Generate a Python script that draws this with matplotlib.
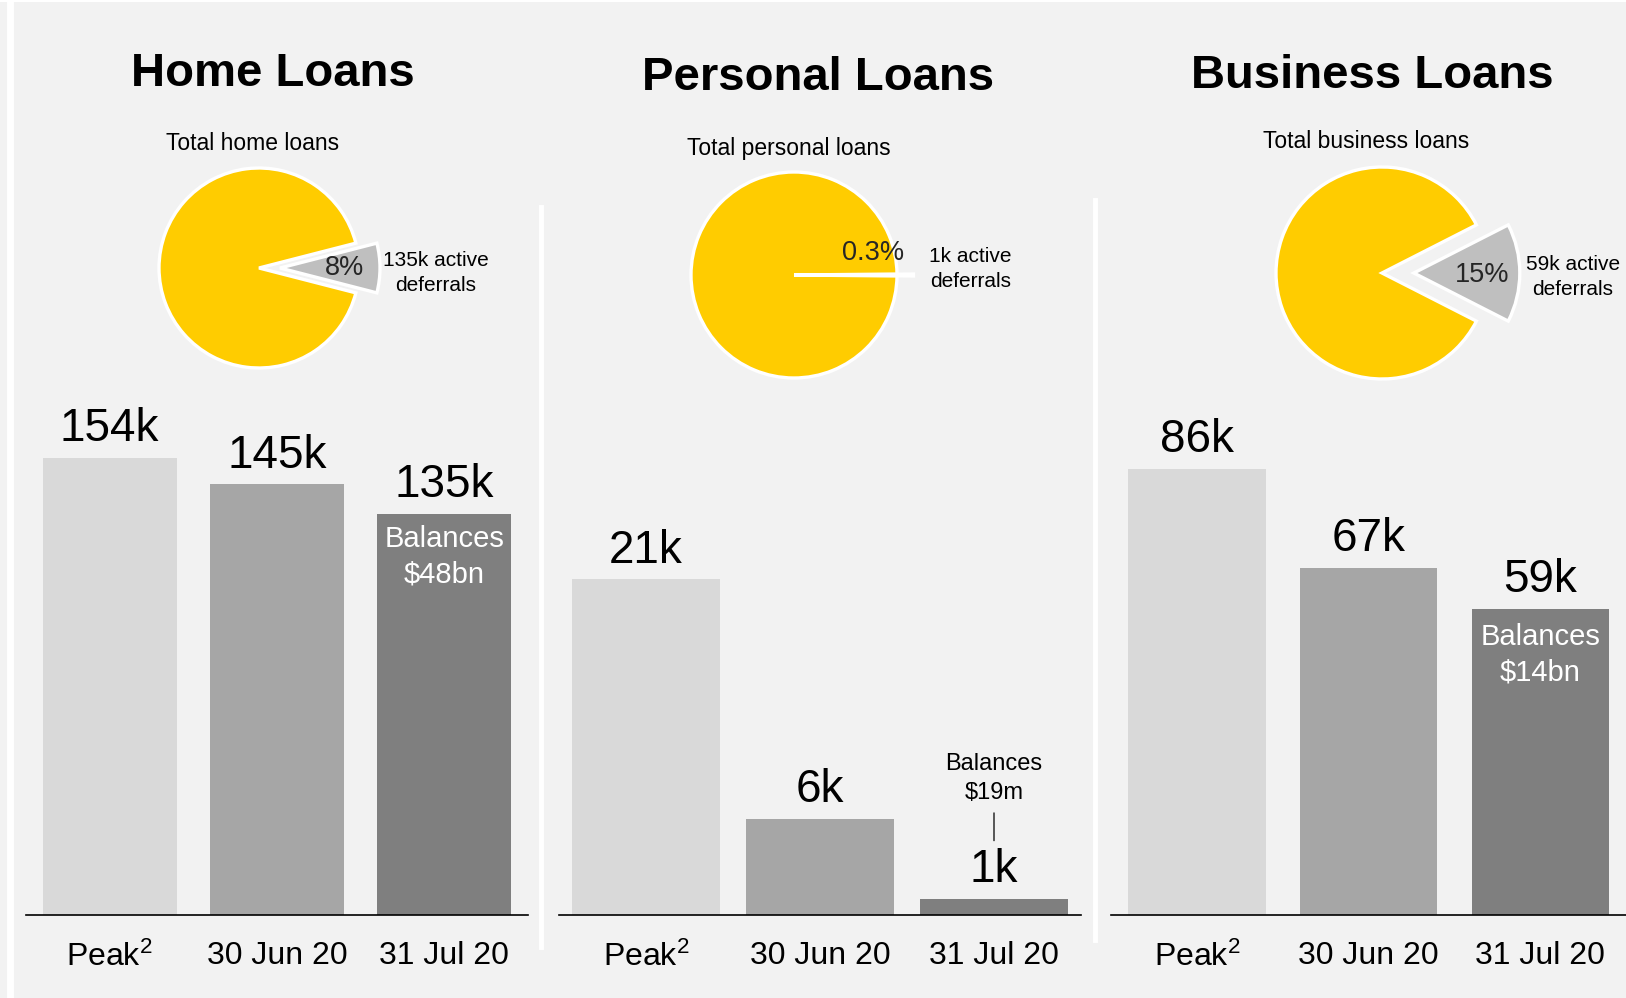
import matplotlib
matplotlib.use("Agg")
import matplotlib.pyplot as plt
import matplotlib.transforms as mtransforms
from matplotlib.lines import Line2D

plt.rcParams['font.family'] = ['Liberation Sans', 'DejaVu Sans']
plt.rcParams['mathtext.fontset'] = 'custom'
plt.rcParams['mathtext.rm'] = 'Liberation Sans'
plt.rcParams['mathtext.it'] = 'Liberation Sans:italic'
plt.rcParams['mathtext.bf'] = 'Liberation Sans:bold'

# data
titles = ["Home Loans", "Personal Loans", "Business Loans"]
pie_titles = ["Total home loans", "Total personal loans", "Total business loans"]
dates = ["Peak$^{2}$", "30 Jun 20", "31 Jul 20"]
home_counts = [154, 145, 135]
personal_counts = [21, 6, 1]
business_counts = [86, 67, 59]
deferral_pct = [8, 0.3, 15]
deferral_pct_labels = ["8%", "0.3%", "15%"]
deferral_labels = ["135k active\ndeferrals", "1k active\ndeferrals", "59k active\ndeferrals"]
balance_labels = ["Balances\n$48bn", "Balances\n$19m", "Balances\n$14bn"]

BG = '#f2f2f2'
YELLOW = '#ffcc00'
SLICE = '#bfbfbf'
BAR_COLORS = ['#d9d9d9', '#a6a6a6', '#7f7f7f']

W, H = 1626, 998
fig = plt.figure(figsize=(W / 100, H / 100), dpi=100, facecolor=BG)


def px_axes(x0, y0, x1, y1):
    return fig.add_axes([x0 / W, 1 - y1 / H, (x1 - x0) / W, (y1 - y0) / H])


# white frame strips and panel separators
fig.add_artist(Line2D([10 / W, 10 / W], [0, 1 - 2 / H], color='white', lw=5))
fig.add_artist(Line2D([0, 1], [1 - 1 / H, 1 - 1 / H], color='white', lw=1.5))
fig.add_artist(Line2D([541 / W, 541 / W], [1 - 207 / H, 1 - 947 / H], color='white', lw=3.5))
fig.add_artist(Line2D([1095 / W, 1095 / W], [1 - 200 / H, 1 - 940 / H], color='white', lw=3.5))

# titles
title_pos = [(273, 74), (818, 78), (1372, 76)]
sub_pos = [(253, 144), (789, 148), (1366, 142)]
for t, (x, y) in zip(titles, title_pos):
    fig.text(x / W, 1 - y / H, t, ha='center', va='center', fontsize=34, fontweight='bold')
for t, (x, y) in zip(pie_titles, sub_pos):
    fig.text(x / W, 1 - y / H, t, ha='center', va='center', fontsize=16.5)

# pies
pie_geom = [(259, 268, 100, 0.21), (794, 275, 103, 0.16), (1382, 273, 106, 0.30)]
pct_pos = [(0.86, 0.0), (0.77, 0.21), (0.94, -0.02)]
lab_pos = [(1.77, -0.05), (1.71, 0.06), (1.80, -0.04)]
for i, (cx, cy, r, ex) in enumerate(pie_geom):
    half = 160
    ax = px_axes(cx - half, cy - half, cx + half, cy + half)
    p = deferral_pct[i]
    ax.pie([p, 100 - p], colors=[SLICE, YELLOW], explode=[ex, 0],
           startangle=-p * 3.6 / 2, counterclock=True, radius=1,
           wedgeprops=dict(edgecolor='white', linewidth=2.4))
    ax.set_xlim(-half / r, half / r)
    ax.set_ylim(-half / r, half / r)
    ax.set_aspect('equal')
    ax.axis('off')
    ax.text(pct_pos[i][0], pct_pos[i][1], deferral_pct_labels[i], ha='center', va='center',
            fontsize=19.5, color='#262626')
    ax.text(lab_pos[i][0], lab_pos[i][1], deferral_labels[i], ha='center', va='center',
            fontsize=15, linespacing=1.4)

# bars
panels = [home_counts, personal_counts, business_counts]
bar_extent = [(26, 528, 180.1, 0.8), (559, 1081, 33.46, 0.85), (1111, 1626, 103.2, 0.8)]
for i, counts in enumerate(panels):
    x0, x1, ymax, bw = bar_extent[i]
    ax = px_axes(x0, 380, x1, 915)
    ax.set_facecolor('none')
    xs = range(len(counts))
    ax.bar(xs, counts, width=bw, color=BAR_COLORS)
    ax.set_xlim(-0.5, 2.5)
    ax.set_ylim(0, ymax)
    for s in ['top', 'left', 'right']:
        ax.spines[s].set_visible(False)
    ax.spines['bottom'].set_color('black')
    ax.spines['bottom'].set_linewidth(1.2)
    ax.set_yticks([])
    ax.set_xticks(list(xs))
    ax.set_xticklabels(dates, fontsize=23)
    ax.tick_params(axis='x', length=0, pad=19)
    for x, v in zip(xs, counts):
        ax.annotate(f"{v}k", xy=(x, v), xytext=(0, 12), textcoords='offset points',
                    ha='center', va='baseline', fontsize=33)
    if i == 1:
        base = mtransforms.offset_copy(ax.transData, fig=fig, x=0, y=42, units='points')
        ax.annotate('', xy=(2, counts[2]), xycoords=base, xytext=(0, 20),
                    textcoords='offset points',
                    arrowprops=dict(arrowstyle='-', color='black', lw=0.9,
                                    shrinkA=0, shrinkB=0))
        ax.annotate(balance_labels[i], xy=(2, counts[2]), xytext=(0, 87),
                    textcoords='offset points', ha='center', va='center',
                    fontsize=17, linespacing=1.4)
    else:
        off = -31 if i == 0 else -33
        ax.annotate(balance_labels[i], xy=(2, counts[2]), xytext=(0, off),
                    textcoords='offset points', ha='center', va='center',
                    fontsize=21, color='white', linespacing=1.35)

fig.savefig('out.png', dpi=100, facecolor=BG)
